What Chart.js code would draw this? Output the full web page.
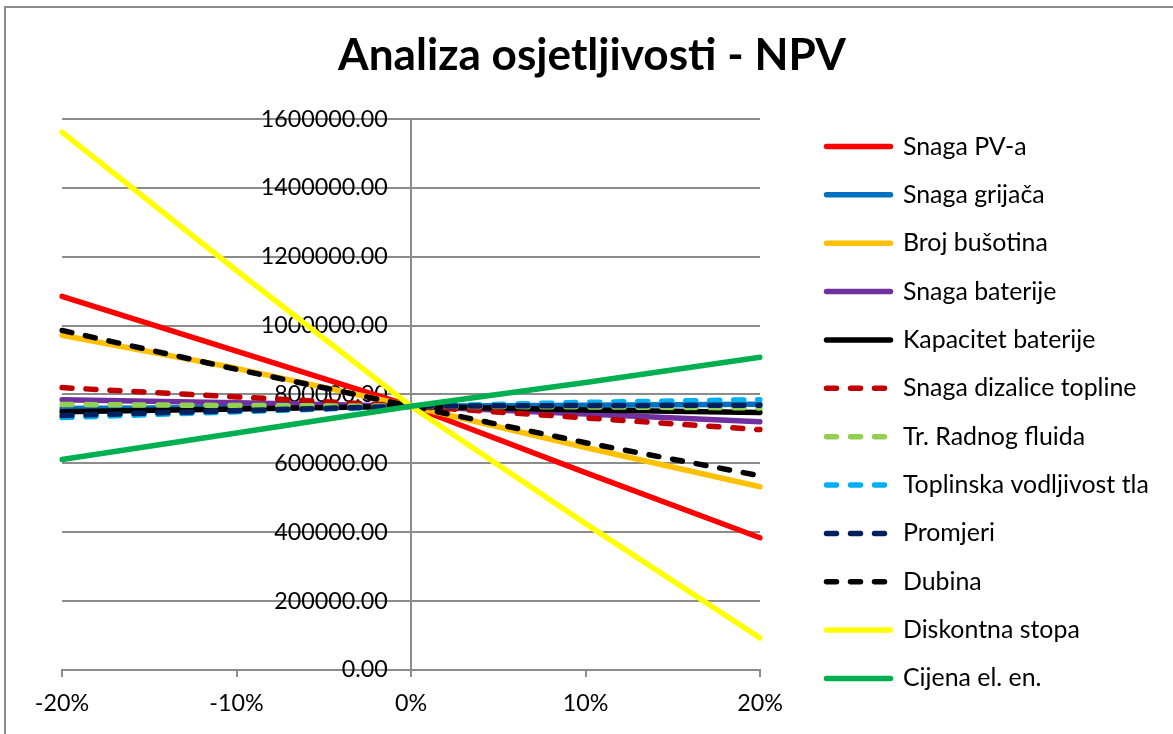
<!DOCTYPE html>
<html><head><meta charset="utf-8">
<script src="https://cdn.jsdelivr.net/npm/chart.js@4.4.1/dist/chart.umd.min.js"></script>
<style>
html,body{margin:0;padding:0;background:#fff;overflow:hidden;width:1173px;height:734px;}
#frame{position:absolute;left:4px;top:6px;width:3000px;height:3000px;border-left:2px solid #8c8c8c;border-top:2px solid #8c8c8c;}
#wrap{position:absolute;left:0;top:0;width:1173px;height:734px;}
</style></head><body>
<div id="frame"></div>
<div id="wrap"><canvas id="c" width="1173" height="734"></canvas></div>
<script>
// ---- data ----
const categories = ['-20%', '-10%', '0%', '10%', '20%'];
const snagaPV            = [1085000, 926000, 766000, 573000, 384000];
const snagaGrijaca       = [759000, 762000, 766000, 769000, 772000];
const brojBusotina       = [972000, 876000, 766000, 646000, 532000];
const snagaBaterije      = [785000, 776000, 766000, 743000, 721000];
const kapacitetBaterije  = [750000, 758000, 766000, 755000, 748000];
const snagaDizalice      = [820000, 793000, 766000, 732000, 698000];
const trRadnogFluida     = [771000, 768000, 766000, 764000, 761000];
const toplinskaVodljivost= [733000, 750000, 766000, 777000, 785000];
const promjeri           = [739000, 753000, 766000, 768000, 769000];
const dubina             = [986000, 873000, 766000, 660000, 564000];
const diskontnaStopa     = [1562000, 1160000, 766000, 425000, 93000];
const cijenaEl           = [611000, 688000, 766000, 835000, 908000];
const yTicksMin = 0, yTicksMax = 1600000, yTicksStep = 200000;

const seriesNames = ['Snaga PV-a','Snaga grijača','Broj bušotina','Snaga baterije','Kapacitet baterije',
  'Snaga dizalice topline','Tr. Radnog fluida','Toplinska vodljivost tla','Promjeri','Dubina','Diskontna stopa','Cijena el. en.'];
const seriesValues = [snagaPV, snagaGrijaca, brojBusotina, snagaBaterije, kapacitetBaterije, snagaDizalice,
  trRadnogFluida, toplinskaVodljivost, promjeri, dubina, diskontnaStopa, cijenaEl];
const seriesColors = ['#FF0000','#0070C0','#FFC000','#7030A0','#000000','#C00000','#92D050','#00B0F0','#002060','#000000','#FFFF00','#00B050'];
const seriesDashed = [false,false,false,false,false,true,true,true,true,true,false,false];

// ---- fonts ----
const FAMILY = 'Lato, "Open Sans", sans-serif';
function fitSize(text, weight, target) {
  const ctx = document.createElement('canvas').getContext('2d');
  ctx.font = weight + ' 100px ' + FAMILY;
  return 100 * target / ctx.measureText(text).width;
}
const tickSize = fitSize('1600000.00', 'normal', 127);
const legendSize = fitSize('Toplinska vodljivost tla', 'normal', 246);
const titleSize = fitSize('Analiza osjetljivosti - NPV', 'bold', 508);

// ---- layout targets ----
const W = 1173, H = 734;
const areaTop = 119, areaBottom = 669, areaLeft = 62, areaRight = 760;
const gridColor = '#8c8c8c';
const lineW = 5.5;
const dashPattern = [10, 14];
const titlePadTop = 73 - 0.987 * titleSize;
const titlePadBottom = areaTop - titlePadTop - 1.2 * titleSize;
const xTickLen = 7;
const xPad = 712 - 0.387 * tickSize - areaBottom - xTickLen - 0.6 * tickSize;
const xTitleH = (H - areaBottom) - xTickLen - xPad - 1.2 * tickSize - 14;
const legSpacing = 48.36;
const legPad = legSpacing - legendSize;
const boxW = 64;
const legendLineStart = 826.5;
const legendLeft = legendLineStart - legPad;
const measCtx = document.createElement('canvas').getContext('2d');
measCtx.font = 'normal ' + legendSize + 'px ' + FAMILY;
const maxTextW = Math.max(...seriesNames.map(n => measCtx.measureText(n).width));
const legendWidth = legPad + boxW + legendSize / 2 + maxTextW + 10;
const padRight = W - legendLeft - legendWidth;
const gapAxisW = legendLeft - areaRight;
const titleCenter = 592;
const padLeft = padRight + (2 * titleCenter - W);
const leftGapW = areaLeft - padLeft;
const firstCenter = 146.5;
const legTitleH = 2 * (firstCenter - legendSize / 2) - legPad - H + seriesNames.length * legSpacing;

Chart.defaults.font.family = FAMILY;
Chart.defaults.color = '#000';

const datasets = seriesNames.map((name, i) => ({
  label: name,
  data: seriesValues[i],
  borderColor: seriesColors[i],
  backgroundColor: seriesColors[i],
  borderWidth: lineW,
  borderDash: seriesDashed[i] ? dashPattern : [],
  borderCapStyle: 'round',
  borderJoinStyle: 'round',
  pointRadius: 0,
  pointHoverRadius: 0,
  tension: 0,
  fill: false,
  order: seriesNames.length - i
}));

new Chart(document.getElementById('c'), {
  type: 'line',
  data: { labels: categories, datasets },
  options: {
    responsive: false,
    animation: false,
    events: [],
    layout: { padding: { left: padLeft, right: padRight, top: 0, bottom: 0 } },
    plugins: {
      title: {
        display: true,
        text: 'Analiza osjetljivosti - NPV',
        color: '#000',
        font: { size: titleSize, weight: 'bold', lineHeight: 1.2 },
        padding: { top: titlePadTop, bottom: titlePadBottom }
      },
      legend: {
        position: 'right',
        align: 'center',
        maxWidth: 700,
        title: { display: true, text: '', font: { size: 10, lineHeight: 1 }, padding: { top: legTitleH - 10, bottom: 0 } },
        labels: {
          usePointStyle: true,
          pointStyle: 'line',
          pointStyleWidth: boxW,
          padding: legPad,
          color: '#000',
          font: { size: legendSize },
          sort: (a, b) => a.datasetIndex - b.datasetIndex,
          generateLabels: chart => {
            const items = Chart.defaults.plugins.legend.labels.generateLabels(chart);
            items.forEach(it => {
              const ds = chart.data.datasets[it.datasetIndex];
              it.lineDash = ds.borderDash;
              it.lineCap = 'round';
              it.lineWidth = lineW;
              it.strokeStyle = ds.borderColor;
              it.fillStyle = ds.borderColor;
              it.pointStyle = 'line';
            });
            return items;
          }
        }
      },
      tooltip: { enabled: false }
    },
    scales: {
      x: {
        type: 'category',
        offset: false,
        grid: { drawOnChartArea: false, drawTicks: true, tickLength: xTickLen, color: gridColor, lineWidth: 2 },
        border: { display: true, color: gridColor, width: 2 },
        ticks: { font: { size: tickSize }, color: '#000', padding: xPad, maxRotation: 0, autoSkip: false },
        title: { display: true, text: '', font: { size: 1, lineHeight: 1 }, padding: { top: Math.max(0, xTitleH - 1), bottom: 0 } }
      },
      y: {
        position: { x: 2 },
        min: yTicksMin,
        max: yTicksMax,
        grid: { color: gridColor, lineWidth: 2, drawTicks: true, tickLength: 8 },
        border: { display: true, color: gridColor, width: 2 },
        ticks: { stepSize: yTicksStep, font: { size: tickSize }, color: '#000', callback: v => Number(v).toFixed(2) + '\u2003\u2005' }
      },
      gapR: {
        type: 'linear',
        position: 'right',
        display: true,
        grid: { display: false, drawTicks: false },
        border: { display: false },
        ticks: { display: false },
        afterFit: s => { s.width = gapAxisW; }
      },
      gapL: {
        type: 'linear',
        position: 'left',
        display: true,
        grid: { display: false, drawTicks: false },
        border: { display: false },
        ticks: { display: false },
        afterFit: s => { s.width = leftGapW; }
      }
    }
  }
});
</script>
</body></html>
